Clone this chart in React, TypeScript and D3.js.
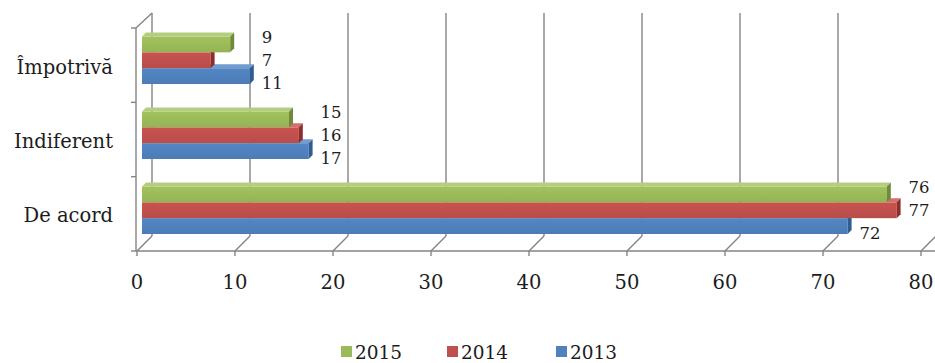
import React from "react";
import * as d3 from "d3";

const categories = ["Împotrivă", "Indiferent", "De acord"];
const seriesNames = ["2015", "2014", "2013"];
const values2015 = [9, 15, 76];
const values2014 = [7, 16, 77];
const values2013 = [11, 17, 72];
const xTicks = [0, 10, 20, 30, 40, 50, 60, 70, 80];

const seriesValues = [values2015, values2014, values2013];
const faceColors = ["#9BBB59", "#C0504D", "#4F81BD"];
const topColors = ["#B3CE7E", "#D4716E", "#739CD0"];
const capColors = ["#6F8A38", "#8E2D2A", "#2F5D92"];
const labelDy = [-7, 0, 7];

const W = 935;
const H = 363;
const FONT = "'DejaVu Serif', serif";
const TEXT = "#1c1c1c";

export default function App() {
  // front plane geometry
  const xFront = d3.scaleLinear().domain([0, 80]).range([137, 921]);
  const frontTop = 28;
  const frontBottom = 251;
  const depthX = 15;
  const depthY = -15;
  const yFront = d3.scaleBand<string>().domain(categories).range([frontTop, frontBottom]);

  // bars sit slightly behind the front plane
  const xBar = d3.scaleLinear().domain([0, 80]).range([142, 926]);
  const yGroup = d3.scaleBand<string>().domain(categories).range([21, 246]);
  const groupOffset = 15.5;
  const groupHeight = 47.5;
  const yInner = d3.scaleBand<string>().domain(seriesNames).range([0, groupHeight]);
  const bd = 4; // bar depth

  const gridColor = "#858585";
  const gw = 1.4;

  const bars: React.ReactNode[] = [];
  const labels: React.ReactNode[] = [];
  categories.forEach((cat, ci) => {
    for (let si = seriesNames.length - 1; si >= 0; si--) {
      const v = seriesValues[si][ci];
      const x0 = xBar(0);
      const x1 = xBar(v);
      const y0 = (yGroup(cat) as number) + groupOffset + (yInner(seriesNames[si]) as number);
      const h = yInner.bandwidth();
      bars.push(
        <g key={`b-${ci}-${si}`}>
          <rect x={x0} y={y0} width={x1 - x0} height={h} fill={`url(#grad${si})`} />
          <polygon
            points={`${x0},${y0} ${x0 + bd},${y0 - bd} ${x1 + bd},${y0 - bd} ${x1},${y0}`}
            fill={topColors[si]}
          />
          <polygon
            points={`${x1},${y0} ${x1 + bd},${y0 - bd} ${x1 + bd},${y0 + h - bd} ${x1},${y0 + h}`}
            fill={capColors[si]}
          />
        </g>
      );
      let reach = v;
      for (let sj = si; sj < seriesNames.length; sj++) reach = Math.max(reach, seriesValues[sj][ci]);
      labels.push(
        <text
          key={`l-${ci}-${si}`}
          x={xBar(reach) + bd + 8}
          y={y0 + h / 2 + labelDy[si]}
          dominantBaseline="central"
          fontFamily={FONT}
          fontSize={16.5}
          fill={TEXT}
        >
          {v}
        </text>
      );
    }
  });

  const legendX = [341, 447, 556];

  return (
    <svg width={W} height={H} style={{ position: "absolute", left: 0, top: 0, background: "#fff" }}>
      <defs>
        {faceColors.map((c, i) => (
          <linearGradient key={i} id={`grad${i}`} x1="0" y1="0" x2="0" y2="1">
            <stop offset="0%" stopColor={d3.color(c)!.brighter(0.12).formatHex()} />
            <stop offset="50%" stopColor={c} />
            <stop offset="100%" stopColor={d3.color(c)!.darker(0.12).formatHex()} />
          </linearGradient>
        ))}
      </defs>
      <rect width={W} height={H} fill="#fff" />
      {xTicks.map((t) => (
        <line
          key={`g${t}`}
          x1={xFront(t) + depthX}
          x2={xFront(t) + depthX}
          y1={frontTop + depthY}
          y2={frontBottom + depthY}
          stroke={gridColor}
          strokeWidth={gw}
        />
      ))}
      {xTicks.map((t) => (
        <line
          key={`f${t}`}
          x1={xFront(t)}
          y1={frontBottom}
          x2={xFront(t) + depthX}
          y2={frontBottom + depthY}
          stroke={gridColor}
          strokeWidth={gw}
        />
      ))}
      <line x1={xFront(0) - 1} y1={frontTop} x2={xFront(0) + depthX} y2={frontTop + depthY} stroke={gridColor} strokeWidth={gw} />
      <line x1={xFront(0) - 1} x2={W} y1={frontBottom} y2={frontBottom} stroke={gridColor} strokeWidth={gw} />
      <line x1={xFront(0) - 1} x2={xFront(0) - 1} y1={frontTop} y2={frontBottom} stroke={gridColor} strokeWidth={gw} />
      {xTicks.map((t) => (
        <line key={`t${t}`} x1={xFront(t)} x2={xFront(t)} y1={frontBottom} y2={frontBottom + 5} stroke={gridColor} strokeWidth={gw} />
      ))}
      {[...categories.map((c) => yFront(c) as number), frontBottom].map((y, i) => (
        <line key={`yt${i}`} x1={xFront(0) - 6} x2={xFront(0) - 1} y1={y} y2={y} stroke={gridColor} strokeWidth={gw} />
      ))}
      {bars}
      {labels}
      {xTicks.map((t) => (
        <text
          key={`xl${t}`}
          x={xFront(t)}
          y={282}
          textAnchor="middle"
          dominantBaseline="central"
          fontFamily={FONT}
          fontSize={19.5}
          fill={TEXT}
        >
          {t}
        </text>
      ))}
      {categories.map((c) => (
        <text
          key={`cl${c}`}
          x={113}
          y={(yFront(c) as number) + yFront.bandwidth() / 2 + 2}
          textAnchor="end"
          dominantBaseline="central"
          fontFamily={FONT}
          fontSize={19.5}
          fill={TEXT}
        >
          {c}
        </text>
      ))}
      {seriesNames.map((s, i) => (
        <g key={`lg${s}`}>
          <rect x={legendX[i]} y={346} width={11} height={11} fill={faceColors[i]} />
          <text x={legendX[i] + 14} y={352} dominantBaseline="central" fontFamily={FONT} fontSize={18.5} fill={TEXT}>
            {s}
          </text>
        </g>
      ))}
    </svg>
  );
}
